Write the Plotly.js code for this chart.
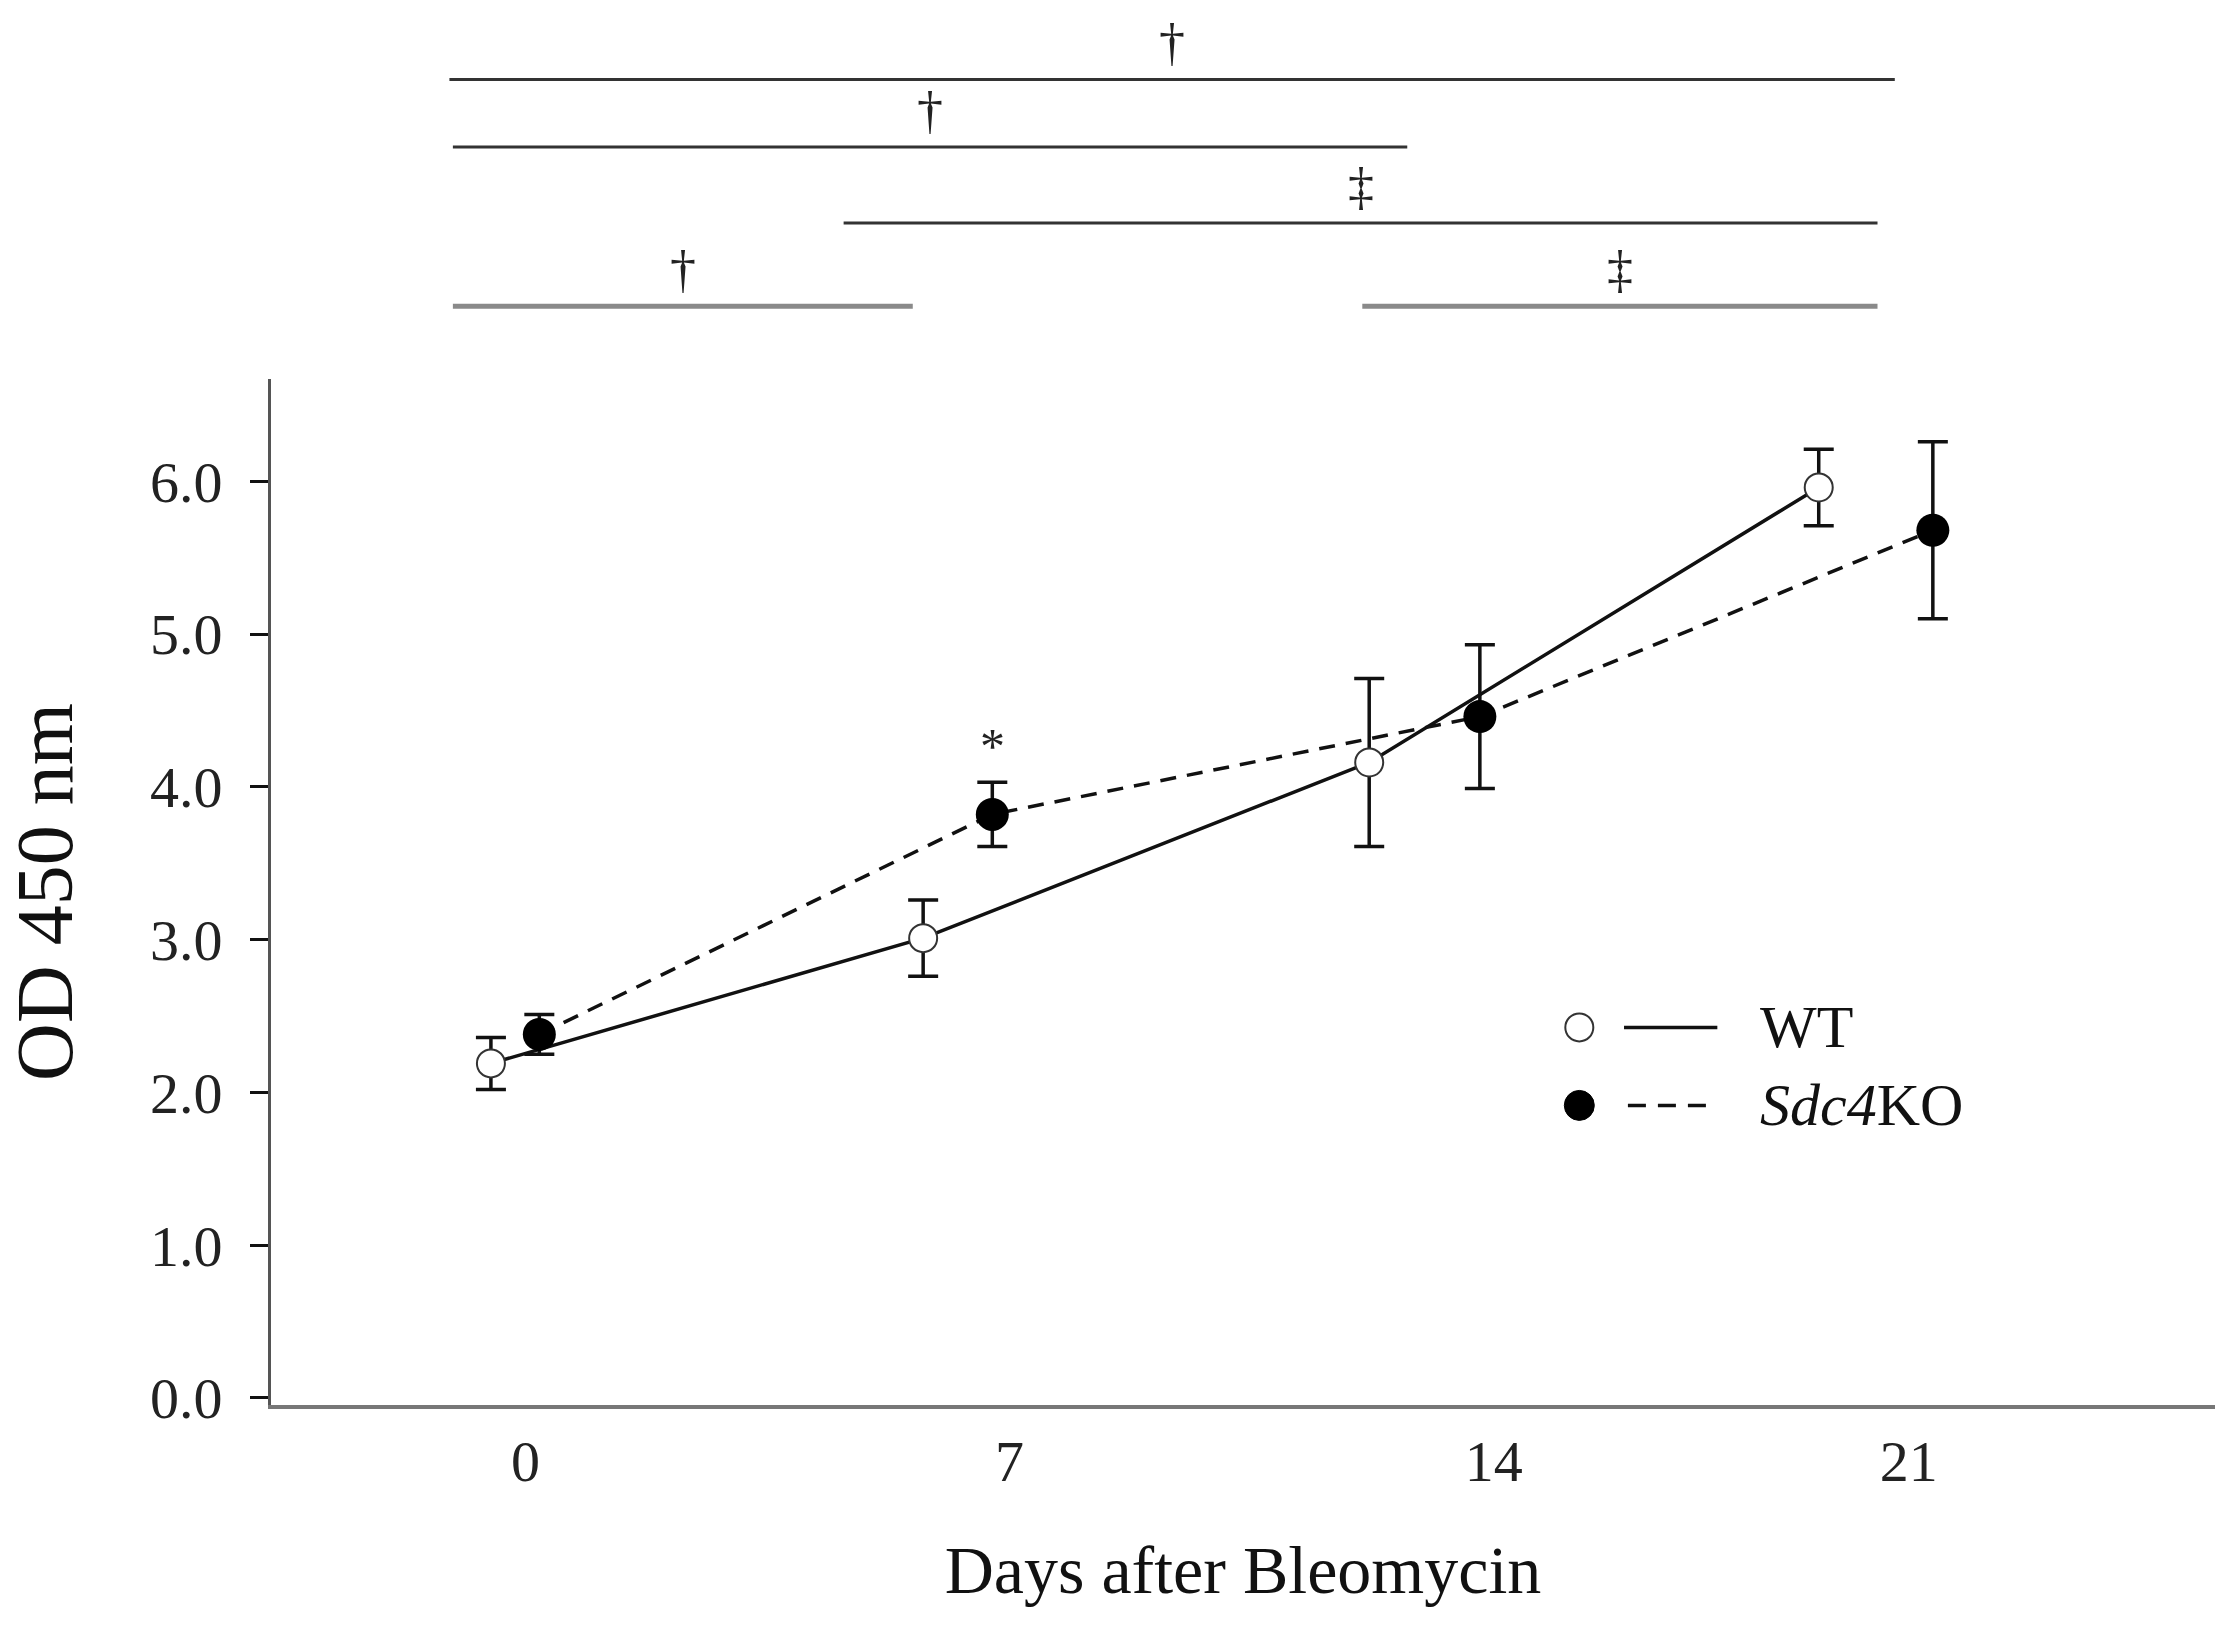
<!DOCTYPE html>
<html>
<head>
<meta charset="utf-8">
<script src="https://cdn.plot.ly/plotly-3.0.1.min.js"></script>
<style>
  html, body { margin: 0; padding: 0; background: #fff; }
  #graphe { width: 2233px; height: 1633px; }
</style>
</head>
<body>
<div id="graphe"></div>
<script>
/** Jours après bléomycine (étiquettes de l'axe x) */
const jours = ['0', '7', '14', '21'];
/** Position de chaque groupe sur l'axe, telle que dessinée dans la figure */
const joursPos = [0, 7, 14, 20];

/** WT : positions x (décalées), moyennes et barres d'erreur */
const wtX = [-0.5, 5.75, 12.2, 18.7];
const wtY = [2.19, 3.01, 4.16, 5.96];
const wtErr = [0.17, 0.25, 0.55, 0.25];

/** Sdc4KO */
const koX = [0.2, 6.75, 13.8, 20.35];
const koY = [2.38, 3.82, 4.46, 5.68];
const koErr = [0.13, 0.21, 0.47, 0.58];

/** Comparaisons au-dessus du graphe : début, fin, symbole */
const compDebut = [-1.1, -1.05, 4.6, -1.05, 12.1];
const compFin = [19.8, 12.75, 19.55, 5.6, 19.55];
const compSymbole = ['†', '†', '‡', '†', '‡'];
const compNiveau = [1.292, 1.226, 1.152, 1.071, 1.071];
const compGris = [false, false, false, true, true];

let police = 'Liberation Serif, Times New Roman, serif';
let graphe = document.getElementById('graphe');

let data = [
    {
        x: wtX, y: wtY,
        mode: 'lines+markers', name: 'WT',
        line: { color: '#111', width: 3.5 },
        marker: { size: 28, color: '#fff', line: { color: '#333', width: 2 } },
        error_y: { type: 'data', array: wtErr, visible: true, color: '#111', thickness: 3.5, width: 15 },
        showlegend: false
    },
    {
        x: koX, y: koY,
        mode: 'lines+markers', name: 'Sdc4KO',
        line: { color: '#111', width: 3.5, dash: '16px,11px' },
        marker: { size: 33, color: '#000' },
        error_y: { type: 'data', array: koErr, visible: true, color: '#111', thickness: 3.5, width: 15 },
        showlegend: false
    }
];

let shapes = [];
let annotations = [];

// crochets de significativité
for (let i = 0; i < compDebut.length; i++){
    shapes.push({
        type: 'line', xref: 'x', yref: 'paper',
        x0: compDebut[i], x1: compFin[i], y0: compNiveau[i], y1: compNiveau[i],
        line: { color: compGris[i] ? '#8a8a8a' : '#333', width: compGris[i] ? 5 : 3 }
    });
    annotations.push({
        xref: 'x', yref: 'paper', x: (compDebut[i] + compFin[i]) / 2, y: compNiveau[i],
        text: compSymbole[i], showarrow: false, yanchor: 'bottom', yshift: 6,
        font: { family: police, size: 52, color: '#222' }
    });
}

// astérisque au jour 7
annotations.push({
    xref: 'x', yref: 'y', x: koX[1], y: koY[1] + koErr[1],
    text: '*', showarrow: false, yanchor: 'bottom', yshift: 6,
    font: { family: police, size: 50, color: '#222' }
});

// légende faite à la main (marqueur puis trait, comme la figure)
let legY = [0.368, 0.292];
shapes.push(
    { type: 'circle', xref: 'paper', yref: 'paper', xsizemode: 'pixel', ysizemode: 'pixel',
      xanchor: 0.673, yanchor: legY[0], x0: -14, x1: 14, y0: -14, y1: 14,
      fillcolor: '#fff', line: { color: '#333', width: 2 } },
    { type: 'circle', xref: 'paper', yref: 'paper', xsizemode: 'pixel', ysizemode: 'pixel',
      xanchor: 0.673, yanchor: legY[1], x0: -15, x1: 15, y0: -15, y1: 15,
      fillcolor: '#000', line: { color: '#000', width: 1 } },
    { type: 'line', xref: 'paper', yref: 'paper', x0: 0.696, x1: 0.744, y0: legY[0], y1: legY[0],
      line: { color: '#111', width: 3.5 } },
    { type: 'line', xref: 'paper', yref: 'paper', x0: 0.698, x1: 0.742, y0: legY[1], y1: legY[1],
      line: { color: '#111', width: 3.5, dash: '18px,12px' } }
);
annotations.push(
    { xref: 'paper', yref: 'paper', x: 0.765, y: legY[0], xanchor: 'left', yanchor: 'middle',
      text: 'WT', showarrow: false, font: { family: police, size: 60, color: '#111' } },
    { xref: 'paper', yref: 'paper', x: 0.765, y: legY[1], xanchor: 'left', yanchor: 'middle',
      text: '<i>Sdc4</i>KO', showarrow: false, font: { family: police, size: 60, color: '#111' } }
);

let layout = {
    width: 2233, height: 1633,
    paper_bgcolor: '#fff', plot_bgcolor: '#fff',
    margin: { l: 271, r: 18, t: 379, b: 228 },
    font: { family: police, color: '#222' },
    showlegend: false,
    xaxis: {
        range: [-3.68, 24.43],
        tickvals: joursPos, ticktext: jours,
        showgrid: false, zeroline: false,
        showline: true, linecolor: '#777', linewidth: 4,
        ticks: '', ticklabelstandoff: 2,
        tickfont: { family: police, size: 58, color: '#222' },
        title: { text: 'Days after Bleomycin', standoff: 54, font: { family: police, size: 68, color: '#111' } }
    },
    yaxis: {
        range: [-0.046, 6.67],
        tickvals: [0, 1, 2, 3, 4, 5, 6],
        ticktext: ['0.0', '1.0', '2.0', '3.0', '4.0', '5.0', '6.0'],
        showgrid: false, zeroline: false,
        showline: true, linecolor: '#555', linewidth: 3,
        ticks: 'outside', ticklen: 18, tickwidth: 3, tickcolor: '#111',
        ticklabelstandoff: 16,
        tickfont: { family: police, size: 58, color: '#222' },
        title: { text: 'OD 450 nm', standoff: 51, font: { family: police, size: 80, color: '#111' } }
    },
    shapes: shapes,
    annotations: annotations
};

Plotly.newPlot(graphe, data, layout, { staticPlot: true });
</script>
</body>
</html>
